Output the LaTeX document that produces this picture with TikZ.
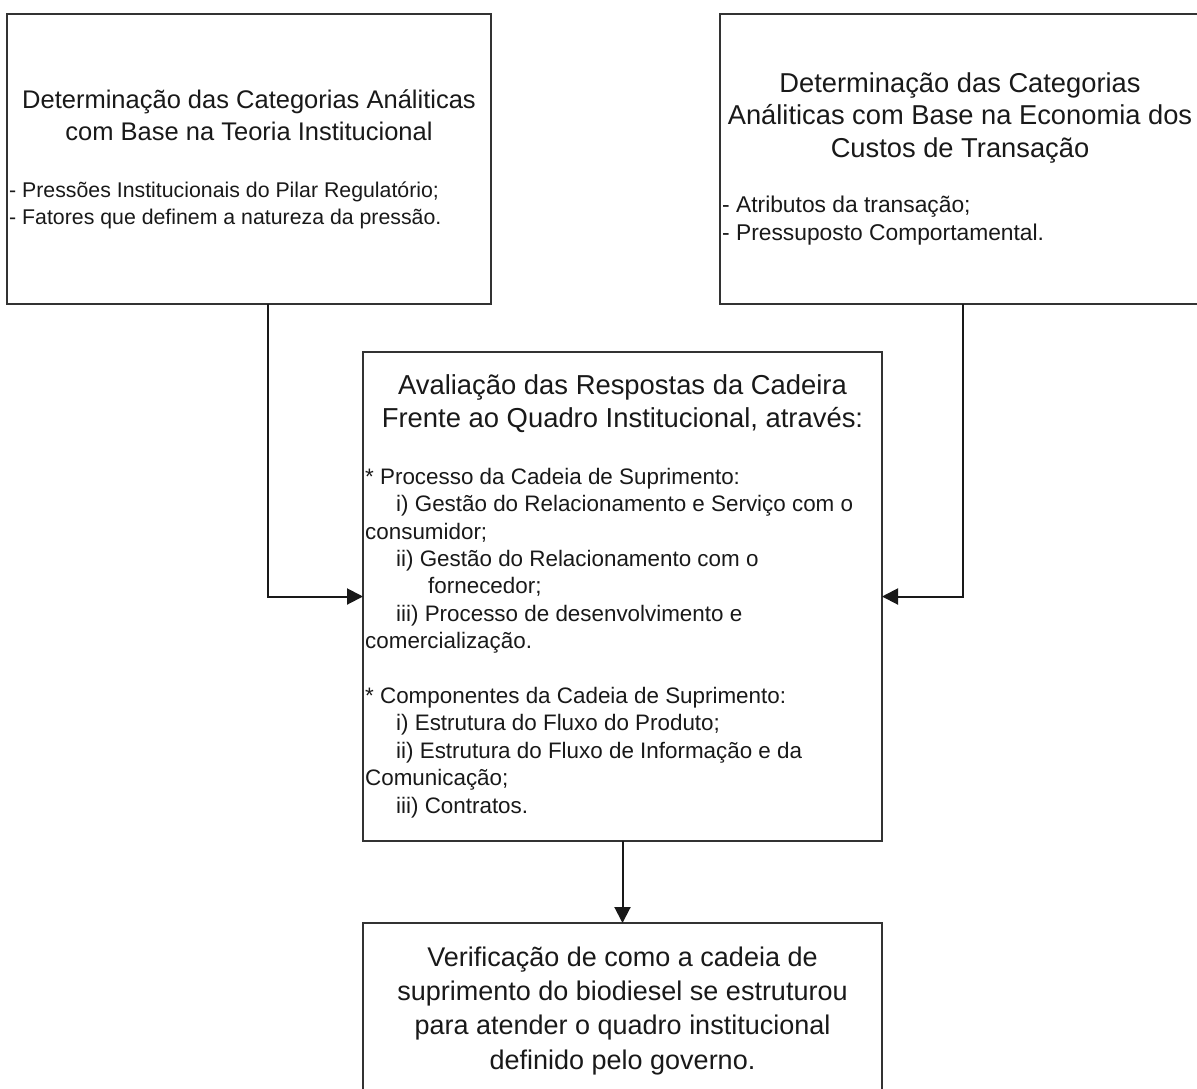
\documentclass[tikz,border=0pt]{standalone}
\usepackage{fontspec}
\setmainfont{Liberation Sans}
\usetikzlibrary{arrows.meta}
\newcommand\firstline[1]{\rule{0pt}{#1}}
\begin{document}
\begin{tikzpicture}[x=1pt,y=-1pt,
  box/.style={draw=black!80, line width=2pt, fill=none, inner sep=0pt, outer sep=0pt},
  arr/.style={draw=black!90, line width=2pt, -{Triangle[length=16pt,width=16pt]}},
  head/.style={inner sep=0pt, anchor=north, align=center, text=black!90,
    font=\fontsize{25.5}{32}\selectfont},
  items/.style={inner sep=0pt, anchor=north west, align=left, text=black!90,
    font=\fontsize{21.3}{27.2}\selectfont}]
\useasboundingbox[fill=white] (0,0) rectangle (1197,1088);

% boxes
\node[box, minimum width=484pt, minimum height=290pt] (b1) at (249,159) {};
\node[box, minimum width=481pt, minimum height=290pt] (b2) at (960.5,159) {};
\node[box, minimum width=519pt, minimum height=489pt] (cb) at (622.5,596.5) {};
\node[box, minimum width=519pt, minimum height=187pt] (bb) at (622.5,1016.5) {};

% texts of the upper left box
\node[head] (b1h) at (249,82) {\firstline{26pt}Determinação das Categorias Análiticas\\com Base na Teoria Institucional};
\node[items] (b1l) at (9,176) {\firstline{21pt}- Pressões Institucionais do Pilar Regulatório;\\- Fatores que definem a natureza da pressão.};

% texts of the upper right box
\node[head, font=\fontsize{27.3}{32.5}\selectfont] (b2h) at (960,65) {\firstline{27pt}Determinação das Categorias\\Análiticas com Base na Economia dos\\Custos de Transação};
\node[items, font=\fontsize{22.8}{28}\selectfont] (b2l) at (722,190) {\firstline{22pt}- Atributos da transação;\\- Pressuposto Comportamental.};

% texts of the central box
\node[head, font=\fontsize{27.4}{33}\selectfont] (cbh) at (622.5,367) {\firstline{27pt}Avaliação das Respostas da Cadeira\\Frente ao Quadro Institucional, através:};
\node[items, font=\fontsize{22.4}{27.4}\selectfont] (cbl) at (365,462) {\firstline{22pt}* Processo da Cadeia de Suprimento:\\
\hspace*{31pt}i) Gestão do Relacionamento e Serviço com o\\
consumidor;\\
\hspace*{31pt}ii) Gestão do Relacionamento com o\\
\hspace*{63pt}fornecedor;\\
\hspace*{31pt}iii) Processo de desenvolvimento e\\
comercialização.\\[27.4pt]
* Componentes da Cadeia de Suprimento:\\
\hspace*{31pt}i) Estrutura do Fluxo do Produto;\\
\hspace*{31pt}ii) Estrutura do Fluxo de Informação e da\\
Comunicação;\\
\hspace*{31pt}iii) Contratos.};

% text of the bottom box
\node[head, font=\fontsize{27}{34.3}\selectfont] (bbh) at (622.5,939) {\firstline{27pt}Verificação de como a cadeia de\\suprimento do biodiesel se estruturou\\para atender o quadro institucional\\definido pelo governo.};

% connectors
\coordinate (lk) at (268,597);
\coordinate (rk) at (963,597);
\draw[arr] (b1.south -| lk) |- (cb.west);
\draw[arr] (b2.south -| rk) |- (cb.east);
\draw[arr] (cb.south) -- (bb.north);
\end{tikzpicture}
\end{document}
